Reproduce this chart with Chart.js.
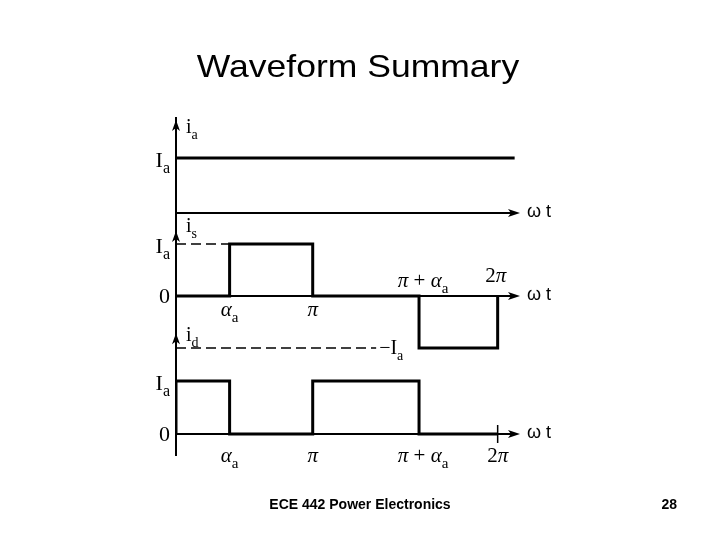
<!DOCTYPE html>
<html><head><meta charset="utf-8">
<script src="https://cdn.jsdelivr.net/npm/chart.js@4.4.1/dist/chart.umd.min.js"></script>
<style>html,body{margin:0;padding:0;background:#fff}#wrap{width:720px;height:540px;position:relative}</style>
</head><body><div id="wrap"><canvas id="c" width="720" height="540"></canvas></div>
<script>
// phase breakpoints as drawn in the figure (0 .. 2π drawn over 0 .. 360)
const phaseLabels = ['0', 'α_a', 'π', 'π + α_a', '2π'];
const phasePos = [0, 60, 153, 272, 360];
const xEnd = 385;

// i_a : constant current (units of I_a)
const iaX = [0, 379];
const iaY = [1, 1];
// i_s : source current (units of I_a)
const isX = [0, 60, 153, 272, 360];
const isY = [0, 1, 0, -1, 0];
// i_d : diode current (units of I_a)
const idX = [0, 0, 60, 153, 272, 360];
const idY = [0, 1, 0, 1, 0, 0];
// dashed reference levels in the i_s panel
const isRefY = [1, -1];
const isRefEndX = [60, 224];
const isRefLabels = ['', '−I_a'];
// y-axis tick labels
const yTickVals = [1, 0];
const yTickText = ['I_a', '0'];
const axisNames = ['i_a', 'i_s', 'i_d'];
const xAxisName = 'ω t';

const pts = (xs, ys) => xs.map((x, i) => ({x, y: ys[i]}));
const waveStyle = {borderColor: '#000', borderWidth: 3, pointRadius: 0, fill: false, stepped: true, tension: 0};
const dashStyle = {borderColor: '#000', borderWidth: 1.5, pointRadius: 0, fill: false, borderDash: [10, 5]};

const datasets = [
  Object.assign({label: 'ia', data: pts(iaX, iaY), yAxisID: 'y1'}, waveStyle),
  Object.assign({label: 'is', data: pts(isX, isY), yAxisID: 'y2'}, waveStyle),
  Object.assign({label: 'id', data: pts(idX, idY), yAxisID: 'y3'}, waveStyle),
];
isRefY.forEach((lv, i) => {
  datasets.push(Object.assign({label: 'ref' + i, data: [{x: 0, y: lv}, {x: isRefEndX[i], y: lv}], yAxisID: 'y2'}, dashStyle));
});

const yCommon = {
  type: 'linear', position: 'left', stack: 'w',
  grid: {display: false, drawTicks: false},
  ticks: {display: false},
  border: {display: true, color: '#000', width: 2}
};

function drawMath(ctx, str, x, y, size, align) {
  const parts = [];
  for (let k = 0; k < str.length; k++) {
    const c = str[k];
    if (c === '_') { parts.push({t: str[k + 1], s: true}); k++; }
    else parts.push({t: c, s: false, it: /[απ]/.test(c)});
  }
  const fontFor = p => (p.it ? 'italic ' : '') + (p.s ? Math.round(size * 0.72) : size) + 'px "Liberation Serif"';
  let w = 0;
  parts.forEach(p => { ctx.font = fontFor(p); p.w = ctx.measureText(p.t).width; w += p.w; });
  let cx = align === 'center' ? x - w / 2 : align === 'right' ? x - w : x;
  ctx.textAlign = 'left'; ctx.textBaseline = 'alphabetic';
  parts.forEach(p => { ctx.font = fontFor(p); ctx.fillText(p.t, cx, y + (p.s ? size * 0.28 : 0)); cx += p.w; });
}
function arrowRight(ctx, x, y) {
  ctx.beginPath(); ctx.moveTo(x, y); ctx.lineTo(x - 12, y - 4); ctx.lineTo(x - 9, y); ctx.lineTo(x - 12, y + 4); ctx.closePath(); ctx.fill();
}
function arrowUp(ctx, x, y) {
  ctx.beginPath(); ctx.moveTo(x, y); ctx.lineTo(x - 4, y + 11); ctx.lineTo(x, y + 8); ctx.lineTo(x + 4, y + 11); ctx.closePath(); ctx.fill();
}

// annotation placement (value units of each panel)
const panelCfg = [
  {id: 'y1', tip: 1.69, nameY: 1.45, ticks: [0], below: [], above: []},
  {id: 'y2', tip: 1.25, nameY: 1.23, ticks: [0, 1], below: [1, 2], above: [3, 4]},
  {id: 'y3', tip: 1.9, nameY: 1.75, ticks: [0, 1], below: [1, 2, 3, 4], above: []},
];

const annot = {
  id: 'annot',
  afterDatasetsDraw(chart) {
    const ctx = chart.ctx, ca = chart.chartArea, xs = chart.scales.x;
    ctx.save();
    ctx.fillStyle = '#000'; ctx.strokeStyle = '#000';
    panelCfg.forEach((p, pi) => {
      const ys = chart.scales[p.id];
      const y0 = ys.getPixelForValue(0);
      // horizontal axis with arrow
      ctx.lineWidth = 2;
      ctx.beginPath(); ctx.moveTo(ca.left, y0); ctx.lineTo(ca.right - 6, y0); ctx.stroke();
      arrowRight(ctx, ca.right, y0);
      ctx.font = '18px "Liberation Sans"'; ctx.textAlign = 'left'; ctx.textBaseline = 'middle';
      ctx.fillText(xAxisName, ca.right + 7, y0 - 1);
      // vertical arrow + name
      arrowUp(ctx, ca.left, ys.getPixelForValue(p.tip));
      drawMath(ctx, axisNames[pi], ca.left + 10, ys.getPixelForValue(p.nameY), 20, 'left');
      // y tick labels
      p.ticks.forEach(t => {
        const off = yTickVals[t] === 0 ? 7 : 9;
        drawMath(ctx, yTickText[t], ca.left - 6, ys.getPixelForValue(yTickVals[t]) + off, 22, 'right');
      });
      p.below.forEach(k => {
        drawMath(ctx, phaseLabels[k], xs.getPixelForValue(phasePos[k]) + (k === 3 ? 4 : 0), y0 + (pi === 1 ? 20 : 28), 21, 'center');
      });
      p.above.forEach(k => {
        drawMath(ctx, phaseLabels[k], xs.getPixelForValue(phasePos[k]) + (k === 3 ? 4 : -2), y0 - (k === 3 ? 9 : 14), 21, 'center');
      });
    });
    // -Ia label at end of dashed line
    const y2 = chart.scales.y2;
    drawMath(ctx, isRefLabels[1], xs.getPixelForValue(isRefEndX[1]) + 3, y2.getPixelForValue(isRefY[1]) + 6, 20, 'left');
    // 2π tick on bottom axis
    const y3z = chart.scales.y3.getPixelForValue(0), x2p = xs.getPixelForValue(phasePos[4]);
    ctx.lineWidth = 1.5;
    ctx.beginPath(); ctx.moveTo(x2p, y3z - 9); ctx.lineTo(x2p, y3z + 9); ctx.stroke();
    // title
    ctx.save();
    ctx.font = '32px "Liberation Sans"'; ctx.textAlign = 'center'; ctx.textBaseline = 'alphabetic';
    ctx.translate(358, 77); ctx.scale(1.11, 1); ctx.fillText('Waveform Summary', 0, 0);
    ctx.restore();
    // footer
    ctx.font = 'bold 14px "Liberation Sans"'; ctx.textBaseline = 'alphabetic';
    ctx.textAlign = 'center'; ctx.fillText('ECE 442 Power Electronics', 360, 509);
    ctx.textAlign = 'right'; ctx.fillText('28', 677, 509);
    ctx.restore();
  }
};

new Chart(document.getElementById('c'), {
  type: 'line',
  data: {datasets},
  options: {
    responsive: false, animation: false, devicePixelRatio: 1,
    parsing: true,
    layout: {padding: {left: 176, right: 200, top: 118, bottom: 85}},
    plugins: {legend: {display: false}, tooltip: {enabled: false}, title: {display: false}},
    scales: {
      x: {type: 'linear', min: 0, max: xEnd, display: false},
      y1: Object.assign({}, yCommon, {min: -0.236, max: 1.727, stackWeight: 108, weight: 3}),
      y2: Object.assign({}, yCommon, {min: -1.231, max: 1.346, stackWeight: 134, weight: 2}),
      y3: Object.assign({}, yCommon, {min: -0.396, max: 1.396, stackWeight: 95, weight: 1}),
    }
  },
  plugins: [annot]
});
</script></body></html>
